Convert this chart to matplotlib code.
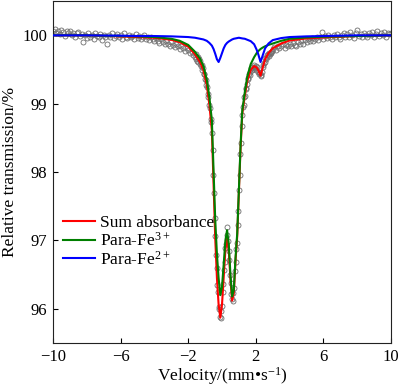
import numpy as np
import matplotlib
matplotlib.use("Agg")
import matplotlib.pyplot as plt

plt.rcParams['font.family'] = ['Liberation Serif', 'DejaVu Serif']
plt.rcParams['mathtext.fontset'] = 'custom'
plt.rcParams['mathtext.rm'] = 'Liberation Serif'
plt.rcParams['mathtext.it'] = 'Liberation Serif:italic'

# ---- fitted curves ----
fit_velocity = [-10, -8, -6, -5, -4, -3, -2.5, -2, -1.6, -1.3, -1.1, -0.9, -0.75, -0.6,
                -0.5, -0.4, -0.3, -0.2, -0.1, 0.0, 0.1, 0.2, 0.3, 0.4, 0.5, 0.6, 0.7,
                0.8, 0.9, 1.0, 1.1, 1.2, 1.35, 1.5, 1.7, 1.9, 2.05, 2.15, 2.28, 2.4,
                2.55, 2.75, 3.0, 3.5, 4, 5, 6, 8, 10]
fe3_fit = [100.00, 100.00, 99.99, 99.985, 99.975, 99.95, 99.92, 99.86, 99.76, 99.66,
           99.55, 99.35, 99.10, 98.76, 98.03, 97.30, 96.80, 96.45, 96.20, 96.32, 96.65,
           97.00, 97.15, 96.95, 96.50, 96.18, 96.28, 96.75, 97.10, 97.75, 98.40, 98.90,
           99.17, 99.40, 99.58, 99.68, 99.74, 99.77, 99.80, 99.82, 99.84, 99.86, 99.88,
           99.92, 99.95, 99.97, 99.98, 99.99, 100.00]
fe2_fit = [100.00, 100.00, 99.995, 99.99, 99.99, 99.985, 99.98, 99.975, 99.965, 99.95,
           99.94, 99.92, 99.89, 99.85, 99.80, 99.73, 99.65, 99.61, 99.67, 99.74, 99.81,
           99.86, 99.89, 99.91, 99.925, 99.94, 99.95, 99.955, 99.96, 99.965, 99.96,
           99.955, 99.95, 99.935, 99.915, 99.87, 99.79, 99.72, 99.61, 99.70, 99.81,
           99.88, 99.93, 99.96, 99.975, 99.985, 99.99, 100.00, 100.00]
sum_fit = [100.00, 100.00, 99.985, 99.975, 99.965, 99.935, 99.90, 99.835, 99.725, 99.61,
           99.49, 99.27, 98.99, 98.61, 97.83, 97.03, 96.45, 96.06, 95.87, 96.06, 96.46,
           96.86, 97.04, 96.86, 96.425, 96.12, 96.23, 96.705, 97.06, 97.715, 98.36,
           98.855, 99.12, 99.335, 99.495, 99.55, 99.53, 99.49, 99.41, 99.52, 99.65,
           99.74, 99.81, 99.88, 99.925, 99.955, 99.97, 99.99, 100.00]

# ---- measured spectrum (read from picture) ----
# channel velocities: three evenly spaced channel blocks
vel_a = np.linspace(-10.0, -1.6, 85)
vel_b = np.linspace(-1.56, 2.96, 114)
vel_c = np.linspace(3.0, 10.0, 71)
trans_a = [100.06, 100.09, 100.03, 100.07, 100.02, 100.08, 100.05, 99.99, 100.06, 100.03,
           100.07, 100.01, 100.04, 99.97, 100.03, 100.05, 99.99, 100.02, 99.90, 100.01,
           99.96, 100.03, 99.98, 100.00, 99.95, 100.04, 99.99, 99.97, 100.02, 99.93,
           100.00, 99.97, 99.88, 100.01, 99.98, 100.03, 99.96, 99.99, 100.02, 99.97,
           100.00, 99.95, 100.03, 99.98, 99.96, 100.01, 99.97, 99.99, 99.94, 100.02,
           99.96, 99.99, 99.95, 99.98, 100.00, 99.94, 99.97, 99.93, 99.98, 99.95,
           99.91, 99.96, 99.92, 99.89, 99.94, 99.90, 99.87, 99.92, 99.88, 99.85,
           99.90, 99.86, 99.83, 99.88, 99.84, 99.80, 99.85, 99.81, 99.77, 99.82,
           99.78, 99.74, 99.76, 99.71, 99.68]
trans_b = [99.66, 99.72, 99.63, 99.69, 99.61, 99.66, 99.58, 99.62, 99.55, 99.57,
           99.50, 99.52, 99.44, 99.43, 99.36, 99.35, 99.27, 99.24, 99.14, 99.10,
           98.98, 98.93, 98.78, 98.73, 98.57, 98.33, 97.95, 97.70, 97.33, 97.06,
           96.78, 96.60, 96.35, 96.24, 96.03, 95.99, 95.88, 95.86, 95.97, 96.04,
           96.25, 96.36, 96.57, 96.68, 96.89, 96.95, 97.08, 97.20, 96.99, 96.84,
           96.71, 96.49, 96.38, 96.22, 96.14, 96.12, 96.23, 96.31, 96.55, 96.68,
           96.87, 96.96, 97.22, 97.43, 97.74, 97.95, 98.26, 98.43, 98.68, 98.83,
           98.95, 98.98, 99.10, 99.11, 99.21, 99.23, 99.29, 99.37, 99.36, 99.44,
           99.42, 99.47, 99.52, 99.49, 99.54, 99.51, 99.53, 99.57, 99.52, 99.55,
           99.50, 99.53, 99.47, 99.46, 99.43, 99.45, 99.40, 99.42, 99.47, 99.54,
           99.56, 99.60, 99.61, 99.67, 99.66, 99.71, 99.69, 99.72, 99.70, 99.74,
           99.72, 99.76, 99.74, 99.77]
trans_c = [99.80, 99.83, 99.78, 99.85, 99.81, 99.84, 99.87, 99.82, 99.86, 99.84,
           99.88, 99.85, 99.89, 99.86, 99.84, 99.90, 99.87, 99.91, 99.88, 99.93,
           99.90, 99.94, 99.91, 99.96, 99.92, 99.95, 99.98, 99.93, 99.97, 100.05,
           99.95, 99.99, 99.96, 100.01, 99.97, 99.94, 100.00, 99.97, 100.02, 99.98,
           99.95, 100.01, 100.04, 99.98, 100.02, 99.97, 100.05, 100.00, 99.96, 100.03,
           100.08, 99.99, 100.02, 99.98, 100.04, 100.01, 99.97, 100.03, 100.00, 100.05,
           99.98, 100.02, 100.06, 99.99, 100.03, 100.01, 100.05, 99.98, 100.04, 100.02,
           100.03]

x_ticks = [-10, -6, -2, 2, 6, 10]
y_ticks = [96, 97, 98, 99, 100]
labels = ["Sum absorbance", r"Para-Fe$^{\mathrm{3+}}$", r"Para-Fe$^{\mathrm{2+}}$"]

vel = np.concatenate([vel_a, vel_b, vel_c])
trans = np.concatenate([trans_a, trans_b, trans_c])

fig = plt.figure(figsize=(4.0, 3.88), dpi=100)
ax = fig.add_axes([0.1325, 0.116, 0.845, 0.881])

ax.plot(vel, trans, linestyle='none', marker='o', markersize=3.6,
        markerfacecolor='none', markeredgecolor='#6e6e6e', markeredgewidth=0.6, zorder=1)
ax.plot(fit_velocity, sum_fit, color='#ff0000', lw=1.5, label=labels[0], zorder=2)
ax.plot(fit_velocity, fe3_fit, color='#007f00', lw=1.5, label=labels[1], zorder=3)
ax.plot(fit_velocity, fe2_fit, color='#0000ff', lw=1.5, label=labels[2], zorder=4)

ax.set_xlim(-10, 10)
ax.set_ylim(95.5, 100.5)
ax.set_xticks(x_ticks)
ax.set_yticks(y_ticks)
ax.tick_params(direction='in', length=3.6, width=0.8, labelsize=12, pad=4)
for s in ax.spines.values():
    s.set_linewidth(0.8)
    s.set_color('#222222')

ax.set_xlabel(r"Velocity/(mm•s$^{\mathrm{-1}}$)", fontsize=12.5, labelpad=0.5)
ax.set_ylabel("Relative transmission/%", fontsize=12.5, labelpad=3)

ax.legend(loc='upper left', bbox_to_anchor=(0.03, 0.375), frameon=False,
          fontsize=12.5, handlelength=1.85, handletextpad=0.25, labelspacing=0.05,
          borderaxespad=0, borderpad=0)

fig.savefig("out.png", dpi=100)
